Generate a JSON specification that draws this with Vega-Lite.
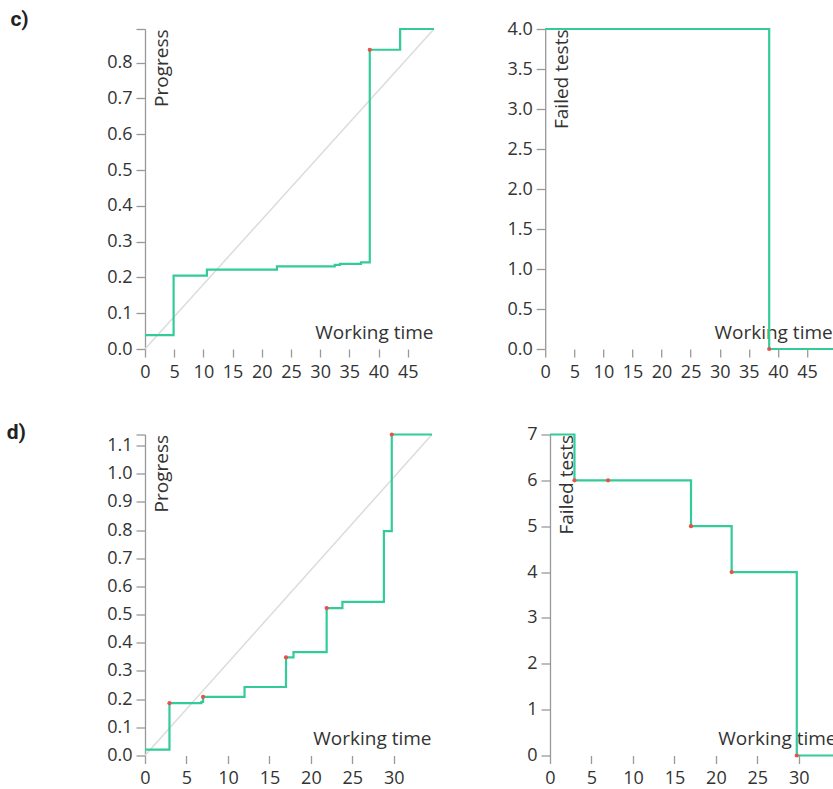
{
  "$schema": "https://vega.github.io/schema/vega-lite/v6.json",
  "padding": {"left": 6, "top": 9, "right": 0, "bottom": 0},
  "background": "white",
  "config": {
    "view": {"stroke": null},
    "font": "Open Sans",
    "axis": {"grid": false, "labelFont": "Open Sans", "labelFontSize": 18, "labelColor": "#333", "titleFont": "Open Sans", "titleFontSize": 19, "titleFontWeight": "normal", "titleColor": "#333", "domainColor": "#999", "tickColor": "#999", "domainWidth": 1.3, "tickWidth": 1.3, "labelOverlap": false, "tickCount": 30},
    "axisX": {"domain": false, "tickSize": 8, "labelPadding": 6, "labelAngle": 0, "titleY": -10.7, "titleAlign": "right", "titleBaseline": "alphabetic", "labelFlush": false},
    "axisY": {"tickSize": 9, "labelPadding": 4, "titleAngle": -90, "titleX": 22, "titleY": 0, "titleAlign": "right", "titleBaseline": "alphabetic"},
    "title": {"font": "Roboto", "fontSize": 21, "fontWeight": "bold", "color": "#222", "anchor": "start"}
  },
  "datasets": {
    "cIdeal": [{"time": 0, "value": 0}, {"time": 49.5, "value": 0.894}],
    "cProgress": [
      {"time": 0, "value": 0.039}, {"time": 4.9, "value": 0.205}, {"time": 10.6, "value": 0.222},
      {"time": 22.6, "value": 0.231}, {"time": 32.5, "value": 0.235}, {"time": 33.4, "value": 0.238},
      {"time": 37.0, "value": 0.242}, {"time": 38.5, "value": 0.836}, {"time": 43.7, "value": 0.894},
      {"time": 49.5, "value": 0.894}
    ],
    "cProgressDots": [{"time": 38.5, "value": 0.836}],
    "cFailed": [{"time": 0, "value": 4}, {"time": 38.5, "value": 0}, {"time": 49.5, "value": 0}],
    "cFailedDots": [{"time": 38.5, "value": 0}],
    "dIdeal": [{"time": 0, "value": 0}, {"time": 34.6, "value": 1.139}],
    "dProgress": [
      {"time": 0, "value": 0.021}, {"time": 2.95, "value": 0.1855}, {"time": 6.8, "value": 0.19},
      {"time": 7.0, "value": 0.208}, {"time": 12.0, "value": 0.243}, {"time": 17.0, "value": 0.348},
      {"time": 17.9, "value": 0.367}, {"time": 21.9, "value": 0.523}, {"time": 23.8, "value": 0.545},
      {"time": 28.8, "value": 0.796}, {"time": 29.75, "value": 1.139}, {"time": 34.6, "value": 1.139}
    ],
    "dProgressDots": [
      {"time": 2.95, "value": 0.1855}, {"time": 7.0, "value": 0.208}, {"time": 17.0, "value": 0.348},
      {"time": 21.9, "value": 0.523}, {"time": 29.75, "value": 1.139}
    ],
    "dFailed": [
      {"time": 0, "value": 7}, {"time": 2.95, "value": 6}, {"time": 17.0, "value": 5},
      {"time": 21.9, "value": 4}, {"time": 29.75, "value": 0}, {"time": 34.6, "value": 0}
    ],
    "dFailedDots": [
      {"time": 2.95, "value": 6}, {"time": 7.0, "value": 6}, {"time": 17.0, "value": 5},
      {"time": 21.9, "value": 4}, {"time": 29.75, "value": 0}
    ]
  },
  "spacing": 40.5,
  "vconcat": [
    {
      "title": {"text": "c)", "dx": -96.3, "offset": -10},
      "spacing": 67.2,
      "hconcat": [
        {
          "width": 289, "height": 320,
          "layer": [
            {"data": {"name": "cIdeal"}, "mark": {"type": "line", "color": "#dcdcdc", "strokeWidth": 1.5},
             "encoding": {
               "x": {"field": "time", "type": "quantitative", "scale": {"domain": [0, 49.5], "nice": false, "zero": false},
                     "axis": {"title": "Working time", "titleX": 288, "tickCount": 30, "values": [0, 5, 10, 15, 20, 25, 30, 35, 40, 45]}},
               "y": {"field": "value", "type": "quantitative", "scale": {"domain": [0, 0.894], "nice": false},
                     "axis": {"title": "Progress", "format": ".1f", "tickCount": 30, "values": [0, 0.1, 0.2, 0.3, 0.4, 0.5, 0.6, 0.7, 0.8, 0.894], "labelExpr": "datum.value > 0.85 ? '' : datum.label"}}
             }},
            {"data": {"name": "cProgress"}, "mark": {"type": "line", "interpolate": "step-after", "color": "#33cc99", "strokeWidth": 2.2},
             "encoding": {"x": {"field": "time", "type": "quantitative"}, "y": {"field": "value", "type": "quantitative"}}},
            {"data": {"name": "cProgressDots"}, "mark": {"type": "circle", "color": "#e5544b", "size": 18, "opacity": 1},
             "encoding": {"x": {"field": "time", "type": "quantitative"}, "y": {"field": "value", "type": "quantitative"}}}
          ]
        },
        {
          "width": 288, "height": 320,
          "layer": [
            {"data": {"name": "cFailed"}, "mark": {"type": "line", "interpolate": "step-after", "color": "#33cc99", "strokeWidth": 2.2},
             "encoding": {
               "x": {"field": "time", "type": "quantitative", "scale": {"domain": [0, 49.5], "nice": false, "zero": false},
                     "axis": {"title": "Working time", "titleX": 287, "tickCount": 30, "values": [0, 5, 10, 15, 20, 25, 30, 35, 40, 45]}},
               "y": {"field": "value", "type": "quantitative", "scale": {"domain": [0, 4], "nice": false},
                     "axis": {"title": "Failed tests", "format": ".1f", "tickCount": 30, "values": [0, 0.5, 1, 1.5, 2, 2.5, 3, 3.5, 4]}}
             }},
            {"data": {"name": "cFailedDots"}, "mark": {"type": "circle", "color": "#e5544b", "size": 18, "opacity": 1},
             "encoding": {"x": {"field": "time", "type": "quantitative"}, "y": {"field": "value", "type": "quantitative"}}}
          ]
        }
      ]
    },
    {
      "title": {"text": "d)", "dx": -100, "offset": -17},
      "spacing": 89,
      "hconcat": [
        {
          "width": 287, "height": 321,
          "layer": [
            {"data": {"name": "dIdeal"}, "mark": {"type": "line", "color": "#dcdcdc", "strokeWidth": 1.5},
             "encoding": {
               "x": {"field": "time", "type": "quantitative", "scale": {"domain": [0, 34.6], "nice": false, "zero": false},
                     "axis": {"title": "Working time", "titleX": 286, "tickCount": 30, "values": [0, 5, 10, 15, 20, 25, 30]}},
               "y": {"field": "value", "type": "quantitative", "scale": {"domain": [0, 1.139], "nice": false},
                     "axis": {"title": "Progress", "format": ".1f", "tickCount": 30, "values": [0, 0.1, 0.2, 0.3, 0.4, 0.5, 0.6, 0.7, 0.8, 0.9, 1.0, 1.1, 1.139], "labelExpr": "datum.value > 1.12 ? '' : datum.label"}}
             }},
            {"data": {"name": "dProgress"}, "mark": {"type": "line", "interpolate": "step-after", "color": "#33cc99", "strokeWidth": 2.2},
             "encoding": {"x": {"field": "time", "type": "quantitative"}, "y": {"field": "value", "type": "quantitative"}}},
            {"data": {"name": "dProgressDots"}, "mark": {"type": "circle", "color": "#e5544b", "size": 18, "opacity": 1},
             "encoding": {"x": {"field": "time", "type": "quantitative"}, "y": {"field": "value", "type": "quantitative"}}}
          ]
        },
        {
          "width": 287, "height": 321,
          "layer": [
            {"data": {"name": "dFailed"}, "mark": {"type": "line", "interpolate": "step-after", "color": "#33cc99", "strokeWidth": 2.2},
             "encoding": {
               "x": {"field": "time", "type": "quantitative", "scale": {"domain": [0, 34.6], "nice": false, "zero": false},
                     "axis": {"title": "Working time", "titleX": 286, "tickCount": 30, "values": [0, 5, 10, 15, 20, 25, 30]}},
               "y": {"field": "value", "type": "quantitative", "scale": {"domain": [0, 7], "nice": false},
                     "axis": {"title": "Failed tests", "format": "d", "tickCount": 30, "values": [0, 1, 2, 3, 4, 5, 6, 7]}}
             }},
            {"data": {"name": "dFailedDots"}, "mark": {"type": "circle", "color": "#e5544b", "size": 18, "opacity": 1},
             "encoding": {"x": {"field": "time", "type": "quantitative"}, "y": {"field": "value", "type": "quantitative"}}}
          ]
        }
      ]
    }
  ]
}
